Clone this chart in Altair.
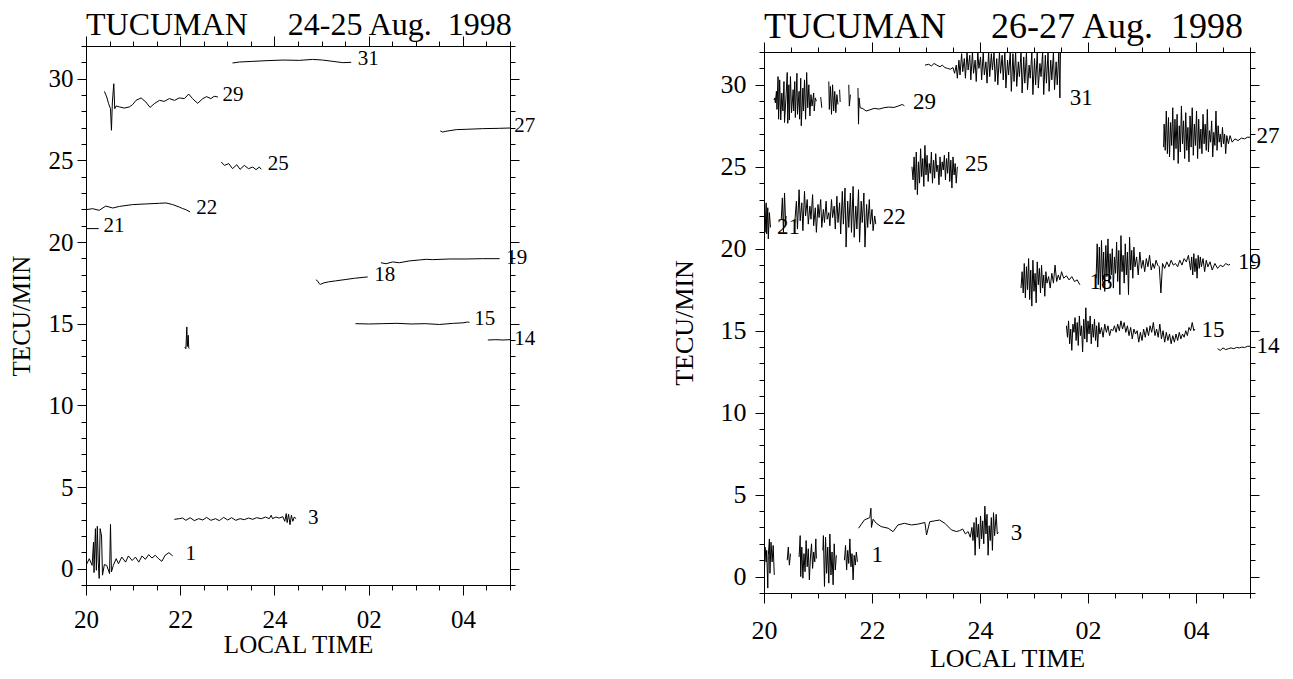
import altair as alt
import pandas as pd

FONT = "Liberation Serif"

# ---------------- tick values ----------------
X_TICKS = [20, 20.5, 21, 21.5, 22, 22.5, 23, 23.5, 24, 24.5, 25, 25.5, 26, 26.5,
           27, 27.5, 28, 28.5, 29]
Y_TICKS = [-1, 0, 1, 2, 3, 4, 5, 6, 7, 8, 9, 10, 11, 12, 13, 14, 15, 16, 17, 18, 19,
           20, 21, 22, 23, 24, 25, 26, 27, 28, 29, 30, 31, 32]

# ---------------- LEFT PANEL: 24-25 Aug. 1998 ----------------
L1_H = [20.0, 20.07, 20.13, 20.16, 20.17, 20.2, 20.22, 20.24, 20.26, 20.28, 20.3, 20.33, 20.35,
        20.39, 20.44, 20.5, 20.52, 20.54, 20.58, 20.64, 20.69, 20.76, 20.84, 20.9, 20.98, 21.05,
        21.12, 21.19, 21.26, 21.33, 21.4, 21.47, 21.54, 21.61, 21.68, 21.76, 21.84]
L1_V = [0.2, 0.61, 0.2, 1.63, -0.24, 2.45, -0.1, 2.6, 0.4, -0.6, 2.45, 2.0, -0.4,
        0.25, 0.2, -0.3, 2.71, -0.2, 0.2, 0.61, 0.3, 0.71, 0.4, 0.78, 0.5, 0.71,
        0.4, 0.78, 0.57, 0.86, 0.65, 0.82, 0.61, 0.45, 0.82, 0.98, 0.78]
L3_H = [21.875, 21.98, 22.05, 22.12, 22.21, 22.3, 22.39, 22.48, 22.56, 22.65, 22.75, 22.83, 22.92,
        23.01, 23.09, 23.18, 23.27, 23.36, 23.45, 23.54, 23.62, 23.72, 23.81, 23.89, 23.93, 23.96,
        24.03, 24.1, 24.18, 24.22, 24.25, 24.27, 24.3, 24.33, 24.36, 24.39, 24.42, 24.46]
L3_V = [3.02, 3.06, 3.1, 2.96, 3.12, 2.94, 3.06, 2.98, 3.14, 2.96, 3.06, 2.94, 3.14,
        2.98, 3.12, 2.96, 3.06, 3.0, 3.1, 3.02, 3.12, 3.06, 3.16, 3.06, 3.27, 3.06,
        3.16, 3.1, 3.18, 2.9, 3.37, 2.82, 3.33, 2.69, 3.27, 2.9, 3.16, 3.06]
LSP_H = [22.095, 22.12, 22.14, 22.15, 22.17, 22.18, 22.19]
LSP_V = [13.57, 13.47, 14.8, 13.6, 14.29, 13.55, 13.47]
L14_H = [28.53, 28.7, 28.85, 29.0]
L14_V = [14.0, 14.02, 14.0, 14.02]
L15_H = [25.72, 26.0, 26.3, 26.6, 26.9, 27.2, 27.5, 27.8, 28.0, 28.1, 28.14]
L15_V = [15.0, 14.98, 15.0, 15.02, 14.98, 15.0, 14.95, 15.02, 15.05, 15.1, 15.08]
L18_H = [24.88, 24.92, 24.95, 24.98, 25.05, 25.15, 25.3, 25.5, 25.7, 25.9, 25.98]
L18_V = [17.69, 17.6, 17.45, 17.41, 17.5, 17.56, 17.62, 17.7, 17.78, 17.84, 17.86]
L19_H = [26.26, 26.37, 26.51, 26.65, 26.86, 27.08, 27.22, 27.36, 27.71, 28.07, 28.42, 28.78]
L19_V = [18.73, 18.67, 18.78, 18.73, 18.84, 18.9, 18.94, 18.92, 18.96, 18.96, 18.98, 18.98]
L21_H = [20.0, 20.27]
L21_V = [20.82, 20.82]
L22_H = [20.0, 20.14, 20.28, 20.42, 20.57, 20.71, 20.99, 21.27, 21.56, 21.7, 21.84, 21.98,
         22.05, 22.12, 22.21]
L22_V = [21.98, 22.04, 21.94, 22.2, 22.08, 22.18, 22.29, 22.33, 22.37, 22.39, 22.29, 22.14,
         22.05, 21.98, 21.84]
L25_H = [22.87, 22.94, 23.03, 23.11, 23.2, 23.27, 23.36, 23.45, 23.54, 23.61, 23.68, 23.72]
L25_V = [24.9, 24.69, 24.8, 24.49, 24.73, 24.45, 24.69, 24.49, 24.59, 24.43, 24.59, 24.45]
L27_H = [27.52, 27.57, 27.64, 27.86, 28.07, 28.42, 28.78, 29.0]
L27_V = [26.8, 26.73, 26.78, 26.88, 26.9, 26.94, 26.96, 26.98]
L29_H = [20.39, 20.44, 20.48, 20.52, 20.54, 20.56, 20.59, 20.61, 20.64, 20.71, 20.81, 20.92,
         20.99, 21.06, 21.17, 21.27, 21.36, 21.45, 21.56, 21.66, 21.77, 21.88, 21.98, 22.09,
         22.18, 22.26, 22.37, 22.48, 22.56, 22.65, 22.72, 22.8]
L29_V = [29.22, 28.88, 28.47, 28.16, 26.84, 28.57, 29.69, 28.16, 28.33, 28.27, 28.2, 28.27,
         28.41, 28.67, 28.82, 28.57, 28.24, 28.47, 28.67, 28.61, 28.78, 28.67, 28.82, 28.78,
         29.06, 28.78, 28.49, 28.78, 28.9, 28.78, 28.92, 28.88]
L31_H = [23.11, 23.26, 23.54, 23.82, 24.18, 24.53, 24.81, 25.02, 25.24, 25.45, 25.63]
L31_V = [30.96, 31.02, 31.06, 31.1, 31.14, 31.12, 31.18, 31.14, 31.06, 30.98, 31.0]

L_LABEL_T = ["31", "29", "27", "25", "22", "21", "19", "18", "15", "14", "3", "1"]
L_LABEL_H = [25.77, 22.9, 29.09, 23.86, 22.34, 20.37, 28.92, 26.12, 28.24, 29.09, 24.71, 22.11]
L_LABEL_V = [31.18, 28.98, 27.13, 24.76, 22.08, 20.98, 19.02, 18.0, 15.27, 14.08, 3.1, 0.92]

# ---------------- RIGHT PANEL: 26-27 Aug. 1998 ----------------
R1A_H = [20.01, 20.02, 20.04, 20.05, 20.07, 20.08, 20.1, 20.11, 20.13, 20.15, 20.17, 20.19]
R1A_V = [0.5, 1.8, 0.9, 1.6, -0.7, 1.3, 2.3, 0.2, 2.1, 0.9, 1.9, 0.1]
R1B_H = [20.43, 20.45, 20.47, 20.49]
R1B_V = [1.0, 1.8, 0.7, 1.4]
R1C_H = [20.65, 20.67, 20.68, 20.7, 20.72, 20.74, 20.76, 20.78, 20.8, 20.82, 20.84, 20.86,
         20.88, 20.9, 20.92, 20.94, 20.96, 20.97]
R1C_V = [1.2, 2.5, 0.0, 1.8, -0.1, 1.4, 0.3, 2.2, 0.6, 1.7, -0.2, 1.2,
         2.0, 0.5, 1.5, 0.9, 2.3, 1.1]
R1D_H = [21.09, 21.1, 21.12, 21.14, 21.16, 21.18, 21.2, 21.22, 21.24, 21.26, 21.28, 21.3,
         21.32, 21.34]
R1D_V = [1.6, 2.5, -0.6, 2.4, 0.2, 1.8, -0.4, 2.6, 0.1, 1.5, -0.5, 2.0, 0.4, 1.3]
R1E_H = [21.49, 21.51, 21.53, 21.55, 21.57, 21.59, 21.61, 21.63, 21.65, 21.67, 21.69, 21.71, 21.73]
R1E_V = [1.0, 1.9, 0.4, 1.6, 0.8, 2.3, 0.6, 1.4, -0.2, 1.3, 0.7, 1.5, 0.9]
R3_H = [21.75, 21.86, 21.96, 21.98, 21.99, 22.02, 22.08, 22.17, 22.3, 22.39, 22.48, 22.6,
        22.73, 22.85, 22.98, 23.01, 23.07, 23.16, 23.25, 23.35, 23.47, 23.56, 23.62, 23.68,
        23.73, 23.78, 23.82, 23.85, 23.87, 23.89, 23.91, 23.93, 23.95, 23.97, 23.99, 24.01,
        24.03, 24.05, 24.07, 24.09, 24.11, 24.13, 24.15, 24.17, 24.19, 24.21, 24.23, 24.25,
        24.27, 24.3, 24.32, 24.34]
R3_V = [2.95, 3.46, 3.6, 4.17, 3.0, 3.5, 3.25, 3.05, 2.95, 2.74, 3.15, 3.25,
        3.15, 3.2, 3.3, 2.54, 3.35, 3.4, 3.45, 3.25, 2.85, 2.75, 2.8, 2.9,
        2.6, 2.75, 2.4, 3.0, 2.2, 3.3, 1.3, 3.6, 2.4, 3.2, 1.7, 3.7,
        2.3, 3.4, 2.0, 4.3, 2.6, 3.8, 1.3, 3.1, 2.2, 3.6, 1.6, 3.9,
        2.5, 3.8, 2.6, 2.7]
R14_H = [28.4, 28.45, 28.5, 28.55, 28.6, 28.65, 28.7, 28.75, 28.8, 28.85, 28.9, 28.95, 29.0]
R14_V = [13.9, 13.8, 13.95, 13.85, 13.9, 13.95, 13.9, 13.98, 13.95, 14.0, 13.97, 14.05, 14.05]
R15_H = [25.6, 25.62, 25.64, 25.66, 25.68, 25.7, 25.72, 25.74, 25.76, 25.78, 25.8, 25.82, 25.84,
         25.86, 25.88, 25.9, 25.92, 25.94, 25.96, 25.98, 26.0, 26.02, 26.04, 26.06, 26.08, 26.1,
         26.12, 26.14, 26.16, 26.18, 26.2, 26.22, 26.25, 26.28, 26.31, 26.34, 26.37, 26.4, 26.43,
         26.46, 26.49, 26.52, 26.55, 26.58, 26.61, 26.64, 26.67, 26.7, 26.73, 26.76, 26.79, 26.82,
         26.85, 26.88, 26.91, 26.94, 26.97, 27.0, 27.03, 27.06, 27.09, 27.12, 27.15, 27.18, 27.21,
         27.24, 27.27, 27.3, 27.33, 27.36, 27.39, 27.42, 27.45, 27.48, 27.51, 27.54, 27.57, 27.6,
         27.63, 27.66, 27.69, 27.72, 27.75, 27.78, 27.81, 27.84, 27.87, 27.9, 27.93, 27.96, 27.98]
R15_V = [15.3, 14.6, 15.6, 14.2, 15.1, 13.8, 15.4, 14.9, 15.8, 14.4, 15.5, 14.1, 15.9,
         14.7, 15.3, 13.7, 15.7, 14.5, 16.4, 14.3, 15.6, 14.8, 15.9, 14.2, 15.4, 14.6,
         15.7, 14.4, 15.3, 14.0, 15.5, 14.8, 15.2, 14.6, 15.4, 14.9, 15.3, 14.7, 15.1,
         15.0, 15.3, 14.9, 15.4, 15.0, 15.6, 15.1, 15.5, 14.9, 15.3, 14.7, 15.2, 14.5,
         15.1, 14.8, 15.0, 14.3, 14.9, 14.4, 15.1, 14.6, 15.2, 14.7, 15.3, 14.9, 15.5,
         14.7, 15.1, 14.6, 15.4, 14.5, 15.0, 14.3, 14.9, 14.4, 14.8, 14.2, 14.7, 14.3,
         14.8, 14.4, 14.9, 14.5, 14.8, 14.6, 15.0, 14.7, 15.2, 15.0, 15.5, 15.0, 15.1]
R18_H = [24.76, 24.78, 24.8, 24.82, 24.84, 24.86, 24.88, 24.9, 24.92, 24.94, 24.96, 24.98, 25.0,
         25.02, 25.04, 25.06, 25.08, 25.1, 25.12, 25.14, 25.16, 25.18, 25.2, 25.22, 25.24, 25.27,
         25.3, 25.33, 25.36, 25.39, 25.42, 25.45, 25.48, 25.51, 25.55, 25.6, 25.65, 25.7, 25.75,
         25.8, 25.85]
R18_V = [17.6, 18.6, 17.3, 19.1, 17.0, 18.9, 17.5, 19.4, 16.9, 18.7, 16.5, 19.3, 17.4,
         18.5, 16.7, 19.2, 17.8, 18.8, 17.3, 19.0, 17.6, 18.4, 17.1, 18.6, 17.9, 18.3,
         17.6, 18.5, 17.9, 19.0, 18.0, 18.4, 18.1, 18.6, 18.2, 18.35, 18.1, 18.3, 18.0,
         18.1, 17.8]
R19_H = [26.15, 26.17, 26.19, 26.21, 26.23, 26.25, 26.27, 26.29, 26.31, 26.33, 26.35, 26.37,
         26.39, 26.41, 26.43, 26.45, 26.47, 26.49, 26.51, 26.53, 26.55, 26.57, 26.59, 26.61,
         26.63, 26.65, 26.67, 26.69, 26.71, 26.73, 26.75, 26.77, 26.79, 26.81, 26.83, 26.85,
         26.87, 26.9, 26.93, 26.96, 26.99, 27.02, 27.05, 27.08, 27.11, 27.14, 27.17, 27.2,
         27.23, 27.26, 27.29, 27.32, 27.35, 27.38, 27.42, 27.46, 27.5, 27.54, 27.58, 27.62,
         27.66, 27.7, 27.74, 27.78, 27.82, 27.86, 27.9, 27.92, 27.94, 27.96, 27.98, 28.0,
         28.02, 28.04, 28.06, 28.08, 28.1, 28.13, 28.16, 28.19, 28.22, 28.26, 28.3, 28.35,
         28.4, 28.45, 28.5, 28.55, 28.6, 28.63]
R19_V = [18.2, 20.3, 17.8, 20.1, 17.5, 20.5, 18.0, 19.8, 17.4, 20.2, 18.3, 20.6,
         17.9, 19.7, 18.4, 20.0, 17.6, 19.5, 18.5, 20.4, 18.0, 19.9, 17.2, 20.8,
         18.6, 19.6, 17.9, 20.3, 18.4, 19.8, 17.2, 20.7, 18.7, 19.9, 18.2, 20.1,
         18.9, 19.5, 18.4, 19.8, 18.8, 19.3, 18.6, 19.4, 18.9, 19.6, 18.7, 19.1,
         18.8, 19.3, 19.0, 18.9, 17.3, 19.1, 18.8, 19.2, 18.9, 19.3, 19.0, 19.1,
         18.9, 19.3, 19.0, 19.4, 19.2, 19.6, 18.7, 19.5, 18.4, 19.7, 18.6, 19.4,
         18.2, 19.6, 18.8, 19.5, 18.9, 19.4, 18.6, 19.3, 18.9, 19.2, 18.7, 19.1,
         18.8, 19.0, 18.9, 19.1, 19.0, 19.05]
R22A_H = [20.0, 20.01, 20.02, 20.04, 20.05, 20.07, 20.08, 20.1, 20.12]
R22A_V = [21.5, 22.7, 21.0, 22.8, 20.9, 22.5, 20.6, 22.2, 21.3]
R22B_H = [20.32, 20.34, 20.36, 20.38, 20.4, 20.41]
R22B_V = [21.8, 23.1, 21.0, 23.4, 21.6, 22.0]
R22C_H = [20.57, 20.6, 20.62, 20.65, 20.67, 20.7, 20.72, 20.75, 20.77, 20.8, 20.82, 20.85,
          20.87, 20.9, 20.92, 20.95, 20.97, 21.0, 21.02, 21.05, 21.07, 21.1, 21.12, 21.15,
          21.17, 21.2, 21.22, 21.25, 21.27, 21.3, 21.32, 21.35, 21.37, 21.4, 21.42, 21.45,
          21.47, 21.5, 21.52, 21.55, 21.57, 21.6, 21.62, 21.65, 21.67, 21.7, 21.72, 21.75,
          21.77, 21.8, 21.82, 21.85, 21.87, 21.9, 21.92, 21.95, 21.97, 22.0, 22.02, 22.05, 22.07]
R22C_V = [21.6, 22.9, 21.2, 23.6, 21.7, 22.8, 21.1, 23.5, 22.0, 23.0, 21.5, 22.6,
          21.8, 23.3, 21.4, 22.5, 21.0, 22.7, 21.9, 23.0, 21.3, 22.4, 21.6, 22.9,
          21.8, 22.2, 21.4, 23.0, 21.9, 22.6, 21.2, 23.2, 21.6, 22.8, 20.9, 23.5,
          21.5, 23.7, 20.1, 22.9, 21.3, 23.4, 21.0, 23.8, 20.7, 22.6, 21.2, 23.6,
          20.4, 22.9, 21.6, 23.4, 20.1, 22.7, 21.3, 23.0, 21.5, 22.4, 21.1, 22.0, 21.5]
R25_H = [22.74, 22.76, 22.78, 22.8, 22.82, 22.84, 22.86, 22.88, 22.9, 22.92, 22.94, 22.96,
         22.98, 23.0, 23.02, 23.04, 23.06, 23.08, 23.1, 23.12, 23.14, 23.16, 23.18, 23.2,
         23.22, 23.24, 23.26, 23.28, 23.3, 23.32, 23.34, 23.36, 23.38, 23.4, 23.42, 23.44,
         23.46, 23.48, 23.5, 23.52, 23.54, 23.56, 23.58]
R25_V = [25.0, 24.2, 25.6, 23.6, 25.9, 23.3, 25.3, 24.0, 26.1, 24.4, 25.5, 23.8,
         26.3, 24.5, 25.7, 24.1, 25.2, 24.6, 25.9, 24.0, 25.4, 24.3, 25.8, 24.7,
         25.1, 23.9, 25.6, 24.4, 25.3, 24.8, 25.7, 24.2, 25.5, 24.6, 25.9, 24.1,
         25.4, 23.7, 25.6, 24.5, 25.2, 24.0, 25.0]
R27_H = [27.4, 27.41, 27.43, 27.45, 27.47, 27.49, 27.51, 27.53, 27.55, 27.57, 27.59, 27.61,
         27.63, 27.65, 27.67, 27.69, 27.71, 27.73, 27.75, 27.77, 27.79, 27.81, 27.83, 27.85,
         27.87, 27.89, 27.91, 27.93, 27.95, 27.97, 27.99, 28.01, 28.03, 28.05, 28.07, 28.09,
         28.11, 28.13, 28.15, 28.17, 28.19, 28.21, 28.23, 28.25, 28.27, 28.29, 28.31, 28.33,
         28.35, 28.37, 28.39, 28.41, 28.43, 28.45, 28.47, 28.49, 28.51, 28.53, 28.55, 28.57,
         28.6, 28.63, 28.67, 28.72, 28.78, 28.84, 28.9, 28.95, 29.0]
R27_V = [26.2, 27.6, 26.0, 28.4, 25.8, 28.0, 25.6, 27.7, 26.3, 28.6, 25.4, 27.9,
         26.1, 28.2, 25.2, 27.5, 25.9, 28.7, 26.4, 27.8, 25.5, 28.3, 26.0, 27.4,
         25.3, 28.1, 26.2, 28.6, 25.7, 27.6, 26.3, 28.4, 25.5, 27.9, 26.1, 27.3,
         25.8, 28.2, 26.4, 27.6, 26.0, 28.5, 25.9, 27.2, 26.5, 27.8, 25.6, 27.1,
         26.3, 28.4, 26.0, 27.5, 26.5, 27.0, 26.2, 27.4, 26.4, 27.0, 25.8, 26.9,
         26.4, 26.9, 26.5, 26.7, 26.6, 26.75, 26.7, 26.8, 26.8]
R29A_H = [20.185, 20.2, 20.21, 20.23, 20.24, 20.26, 20.27, 20.29, 20.31, 20.33, 20.35, 20.37,
          20.38, 20.41, 20.43, 20.44, 20.46, 20.47, 20.49, 20.51, 20.54, 20.55, 20.57, 20.58,
          20.61, 20.62, 20.65, 20.66, 20.68, 20.69, 20.72, 20.73, 20.75, 20.77, 20.79, 20.81,
          20.83, 20.85, 20.87, 20.89, 20.92, 20.93, 20.95, 20.97]
R29A_V = [29.07, 29.2, 28.9, 29.6, 28.5, 30.5, 27.9, 30.3, 27.85, 29.5, 28.4, 30.2,
          27.7, 29.4, 30.75, 27.65, 30.0, 27.85, 30.5, 28.3, 29.7, 28.4, 30.2, 28.0,
          30.7, 28.2, 29.6, 27.9, 30.4, 27.5, 29.8, 28.4, 30.3, 27.9, 30.75, 28.6,
          30.0, 28.1, 29.4, 28.7, 29.5, 28.4, 29.2, 29.0]
R29B_H = [21.05, 21.07]
R29B_V = [29.25, 28.6]
R29C_H = [21.2, 21.21, 21.23, 21.25, 21.27, 21.29, 21.31, 21.33, 21.35, 21.37]
R29C_V = [30.2, 28.5, 29.9, 28.2, 30.0, 28.4, 29.6, 28.3, 29.4, 28.8]
R29D_H = [21.4, 21.41]
R29D_V = [29.7, 28.95]
R29E_H = [21.57, 21.58, 21.6]
R29E_V = [30.0, 28.7, 29.4]
R29F_H = [21.74, 21.75, 21.76, 21.78, 21.83, 21.89, 21.95, 22.04, 22.13, 22.22, 22.31, 22.41,
          22.5, 22.56, 22.6]
R29F_V = [29.8, 27.6, 29.2, 28.6, 28.55, 28.4, 28.46, 28.56, 28.52, 28.6, 28.64, 28.62,
          28.72, 28.8, 28.72]
# the trace runs off the top of the frame (32) in the original: tops are read as 32
R31_H = [22.98, 23.05, 23.1, 23.15, 23.2, 23.26, 23.3, 23.35, 23.4, 23.45, 23.5, 23.53, 23.56,
         23.58, 23.61, 23.63, 23.66, 23.68, 23.71, 23.73, 23.76, 23.78, 23.81, 23.83, 23.86,
         23.88, 23.91, 23.93, 23.96, 23.98, 24.01, 24.03, 24.06, 24.08, 24.11, 24.13, 24.16,
         24.18, 24.21, 24.23, 24.26, 24.28, 24.31, 24.33, 24.36, 24.38, 24.41, 24.43, 24.46,
         24.48, 24.51, 24.53, 24.56, 24.58, 24.61, 24.63, 24.66, 24.68, 24.71, 24.73, 24.76,
         24.78, 24.81, 24.83, 24.86, 24.88, 24.91, 24.93, 24.96, 24.98, 25.01, 25.03, 25.06,
         25.08, 25.11, 25.13, 25.16, 25.18, 25.21, 25.23, 25.26, 25.28, 25.31, 25.33, 25.36,
         25.38, 25.41, 25.43, 25.46, 25.48, 25.49]
R31_V = [31.2, 31.25, 31.15, 31.3, 31.2, 31.1, 31.2, 31.05, 31.0, 30.95, 31.05, 30.7, 31.2,
         30.4, 31.5, 30.6, 31.9, 30.8, 31.6, 30.4, 32.0, 30.9, 31.8, 30.3, 32.0,
         30.7, 31.5, 30.2, 32.0, 31.0, 31.7, 30.3, 32.0, 30.6, 31.4, 30.1, 32.0,
         30.5, 31.9, 30.9, 32.0, 30.2, 31.6, 30.0, 32.0, 30.7, 31.8, 30.3, 32.0,
         29.8, 31.5, 30.6, 32.0, 29.6, 31.9, 30.2, 32.0, 29.9, 31.4, 30.5, 32.0,
         29.5, 31.7, 30.1, 32.0, 29.7, 31.2, 30.4, 32.0, 29.4, 31.6, 30.0, 32.0,
         29.8, 31.3, 30.5, 32.0, 29.4, 31.8, 30.1, 32.0, 29.6, 31.5, 30.3, 32.0,
         29.7, 31.4, 30.0, 32.0, 29.2, 32.0]

R_LABEL_T = ["31", "29", "27", "25", "22", "21", "19", "18", "15", "14", "3", "1"]
R_LABEL_H = [25.66, 22.76, 29.12, 23.72, 22.2, 20.24, 28.78, 26.03, 28.1, 29.12, 24.57, 21.99]
R_LABEL_V = [29.2, 28.96, 26.85, 25.16, 21.95, 21.3, 19.2, 18.0, 15.04, 14.05, 2.64, 1.33]


def lines_frame(segments):
    rows = []
    for sid, (hs, vs) in enumerate(segments):
        for i, (h, v) in enumerate(zip(hs, vs)):
            rows.append({"seg": sid, "i": i, "h": h, "v": v})
    return pd.DataFrame(rows)


def labels_frame(ts, hs, vs):
    return pd.DataFrame({"t": ts, "h": hs, "v": vs})


left_lines = lines_frame([
    (L1_H, L1_V), (L3_H, L3_V), (LSP_H, LSP_V), (L14_H, L14_V), (L15_H, L15_V),
    (L18_H, L18_V), (L19_H, L19_V), (L21_H, L21_V), (L22_H, L22_V), (L25_H, L25_V),
    (L27_H, L27_V), (L29_H, L29_V), (L31_H, L31_V)])
right_lines = lines_frame([
    (R1A_H, R1A_V), (R1B_H, R1B_V), (R1C_H, R1C_V), (R1D_H, R1D_V), (R1E_H, R1E_V),
    (R3_H, R3_V), (R14_H, R14_V), (R15_H, R15_V), (R18_H, R18_V), (R19_H, R19_V),
    (R22A_H, R22A_V), (R22B_H, R22B_V), (R22C_H, R22C_V), (R25_H, R25_V), (R27_H, R27_V),
    (R29A_H, R29A_V), (R29B_H, R29B_V), (R29C_H, R29C_V), (R29D_H, R29D_V), (R29E_H, R29E_V),
    (R29F_H, R29F_V), (R31_H, R31_V)])
left_labels = labels_frame(L_LABEL_T, L_LABEL_H, L_LABEL_V)
right_labels = labels_frame(R_LABEL_T, R_LABEL_H, R_LABEL_V)

X_LABEL_EXPR = ("datum.value % 2 == 0 && datum.value < 29 ? "
                "(datum.value <= 24 ? format(datum.value, 'd') : format(datum.value - 24, '02d')) : ''")
Y_LABEL_EXPR = "datum.value % 5 == 0 && datum.value >= 0 && datum.value <= 30 ? datum.label : ''"
X_TICK = {"condition": {"test": "datum.value % 2 == 0", "value": 10}, "value": 5}
Y_TICK = {"condition": {"test": "datum.value % 5 == 0", "value": 9}, "value": 5}


def panel(lines_df, labels_df, title, w, h, drop, lab_fs, txt_fs, title_fs, title_off,
          ylab_pad, ytitle_pad, xlab_pad, xtitle_pad):
    # 'drop' pushes the framed plot area down inside its group by that many pixels
    xs = alt.Scale(domain=[20, 29], nice=False, zero=False)
    ys = alt.Scale(domain=[-1, 32], nice=False, zero=False, range=[h + drop, drop])
    common = dict(labelFont=FONT, titleFont=FONT, labelColor="black", titleColor="black",
                  tickColor="black", domainColor="black", grid=False, labelOverlap=False,
                  labelFlush=False, titleFontWeight="normal")
    xb = alt.Axis(orient="bottom", values=X_TICKS, labelExpr=X_LABEL_EXPR, tickSize=X_TICK,
                  labelFontSize=lab_fs, titleFontSize=lab_fs, labelPadding=xlab_pad,
                  titlePadding=xtitle_pad, **common)
    yl = alt.Axis(orient="left", values=Y_TICKS, labelExpr=Y_LABEL_EXPR, tickSize=Y_TICK,
                  labelFontSize=lab_fs, titleFontSize=lab_fs, labelPadding=ylab_pad,
                  titlePadding=ytitle_pad, **common)
    xt = alt.Axis(orient="top", values=X_TICKS, labels=False, tickSize=X_TICK, offset=-drop,
                  **common)
    yr = alt.Axis(orient="right", values=Y_TICKS, labels=False, tickSize=Y_TICK, **common)
    lines = alt.Chart(lines_df).mark_line(color="black", strokeWidth=1, clip=True).encode(
        x=alt.X("h:Q", scale=xs, axis=xb, title="LOCAL TIME"),
        y=alt.Y("v:Q", scale=ys, axis=yl, title="TECU/MIN"),
        detail="seg:N",
        order="i:Q",
    )
    texts = alt.Chart(labels_df).mark_text(
        align="left", baseline="middle", font=FONT, fontSize=txt_fs, color="black").encode(
        x=alt.X("h:Q", scale=xs, axis=xt, title=None),
        y=alt.Y("v:Q", scale=ys, axis=yr, title=None),
        text="t:N",
    )
    return alt.layer(lines, texts).resolve_axis(x="independent", y="independent").properties(
        width=w, height=h + drop,
        view=alt.ViewBackground(stroke="transparent"),
        title=alt.TitleParams(title, anchor="start", frame="group", font=FONT, fontSize=title_fs,
                              fontWeight="normal", color="black", offset=title_off),
    )


NB = "\u00a0"
left = panel(left_lines, left_labels, "TUCUMAN" + NB * 5 + "24-25 Aug." + NB * 2 + "1998",
             424, 539, 0, 25, 21, 32, -8, 4, 14, 12, 0)
right = panel(right_lines, right_labels, "TUCUMAN" + NB * 5 + "26-27 Aug." + NB * 2 + "1998",
              486, 541, 6, 26, 23, 36, -7, 9, 23, 14, 2)

chart = alt.concat(left, right, columns=2, spacing=134).configure_view(
    stroke="transparent").properties(padding={"left": 0, "top": 0, "right": 0, "bottom": 0})

chart.save("out.html", embed_options={"renderer": "svg", "actions": False})
